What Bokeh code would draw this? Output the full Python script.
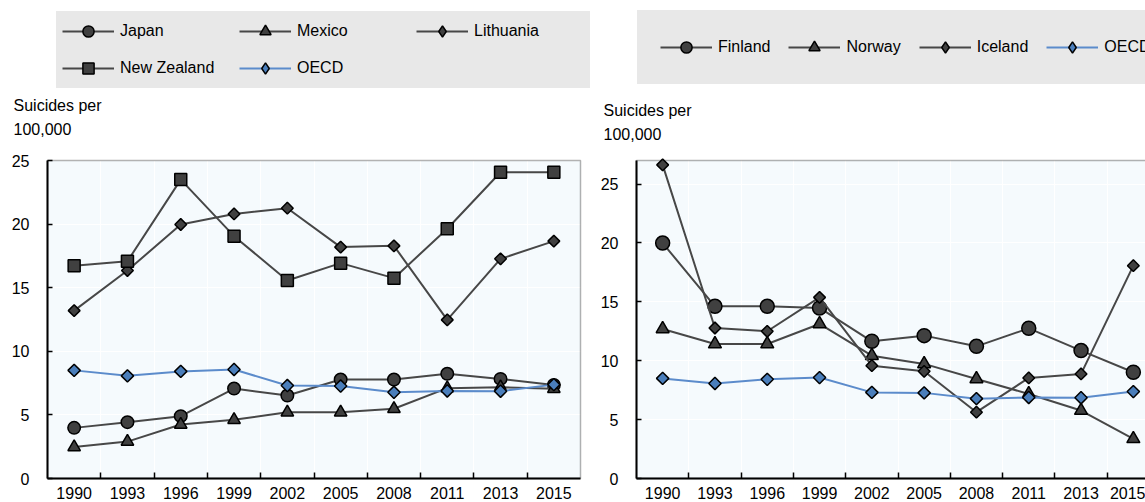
import numpy as np
from bokeh.plotting import figure
from bokeh.models import (Range1d, LinearAxis, FixedTicker, Legend, LegendItem, Label,
                          BoxAnnotation)
from bokeh.layouts import row
from bokeh.embed import file_html
from bokeh.resources import INLINE

years = ["1990", "1993", "1996", "1999", "2002", "2005", "2008", "2011", "2013", "2015"]
y_ticks = [0, 5, 10, 15, 20, 25]

japan = [3.98, 4.43, 4.90, 7.07, 6.52, 7.78, 7.78, 8.23, 7.83, 7.35]
mexico = [2.47, 2.90, 4.24, 4.61, 5.20, 5.20, 5.48, 7.10, 7.18, 7.05]
lithuania = [13.20, 16.35, 19.97, 20.80, 21.25, 18.19, 18.29, 12.47, 17.27, 18.66]
new_zealand = [16.72, 17.08, 23.50, 19.05, 15.57, 16.93, 15.75, 19.63, 24.08, 24.08]
oecd = [8.50, 8.07, 8.42, 8.57, 7.31, 7.27, 6.78, 6.88, 6.86, 7.38]

finland = [19.99, 14.62, 14.62, 14.48, 11.65, 12.13, 11.22, 12.75, 10.86, 9.02]
norway = [12.70, 11.42, 11.42, 13.12, 10.43, 9.73, 8.45, 7.18, 5.77, 3.37]
iceland = [26.63, 12.78, 12.50, 15.38, 9.58, 9.10, 5.63, 8.54, 8.88, 18.07]

# one slot per year on the x axis
xpos = list(range(len(years)))
boundaries = [i + 0.5 for i in xpos[:-1]]
X_LO, X_HI = -0.5, len(years) - 0.5

FONT = "Liberation Sans"
FS = "16px"
BG = "#F5FAFD"
LEG_BG = "#E8E8E8"
DARK_LINE = "#474747"
DARK_FILL = "#404040"
BLUE_LINE = "#5B8BCB"
BLUE_FILL = "#4A7EBB"
FIG_H = 502
AXIS_Y = 478       # canvas px (from top) of the x axis line
PLOT_TOP = 160     # canvas px (from top) of the top of the plotting box


def make_panel(fig_w, plot_l, plot_r, y_top):
    catw = (plot_r - plot_l) / len(years)
    x0 = X_LO - plot_l / catw
    x1 = X_LO + (fig_w - plot_l) / catw
    ppu = (AXIS_Y - PLOT_TOP) / y_top
    y0 = -(FIG_H - AXIS_Y) / ppu
    y1 = y_top + PLOT_TOP / ppu
    p = figure(x_range=Range1d(x0, x1), y_range=Range1d(y0, y1),
               width=fig_w, height=FIG_H, output_backend="svg", toolbar_location=None,
               y_axis_location=None,
               min_border_left=0, min_border_right=0, min_border_top=0,
               min_border_bottom=0,
               background_fill_color="white", border_fill_color="white",
               outline_line_color=None)
    # plotting box background + border
    p.add_layout(BoxAnnotation(left=X_LO, right=X_HI, bottom=0, top=y_top,
                               fill_color=BG, fill_alpha=1.0, line_color=None,
                               level="image"))
    p.add_layout(BoxAnnotation(left=X_LO, right=X_HI, bottom=0, top=y_top,
                               fill_alpha=0, line_color="black", line_width=1.5,
                               level="underlay"))
    # x axis: boundary ticks pointing into the plot
    tick_axis = p.xaxis[0]
    tick_axis.fixed_location = 0
    tick_axis.ticker = FixedTicker(ticks=boundaries)
    tick_axis.bounds = (X_LO, X_HI)
    tick_axis.major_tick_in = 6
    tick_axis.major_tick_out = 0
    tick_axis.major_tick_line_color = "black"
    tick_axis.major_tick_line_width = 1.5
    tick_axis.minor_tick_line_color = None
    tick_axis.major_label_overrides = {b: "" for b in boundaries}
    tick_axis.major_label_text_color = None
    tick_axis.major_label_standoff = 0
    tick_axis.axis_line_color = "black"
    tick_axis.axis_line_width = 2
    # year labels at slot centres
    label_axis = LinearAxis(fixed_location=0, ticker=FixedTicker(ticks=xpos),
                            major_label_overrides={i: y for i, y in zip(xpos, years)},
                            major_tick_in=0, major_tick_out=0, major_tick_line_color=None,
                            minor_tick_line_color=None, axis_line_color=None,
                            major_label_standoff=8, major_label_text_font=FONT,
                            major_label_text_font_size=FS, major_label_text_color="black")
    p.add_layout(label_axis, "below")

    p.xgrid.ticker = FixedTicker(ticks=boundaries)
    p.xgrid.grid_line_color = "white"
    p.xgrid.grid_line_width = 1

    yax = LinearAxis(fixed_location=X_LO, bounds=(0, y_top),
                     ticker=FixedTicker(ticks=y_ticks),
                     major_tick_in=5, major_tick_out=0, major_tick_line_color="black",
                     major_tick_line_width=1.5, minor_tick_line_color=None,
                     axis_line_color="black", axis_line_width=2,
                     major_label_standoff=18, major_label_text_font=FONT,
                     major_label_text_font_size=FS, major_label_text_color="black")
    p.add_layout(yax, "left")
    p.ygrid.ticker = FixedTicker(ticks=y_ticks)
    p.ygrid.grid_line_color = "white"
    p.ygrid.grid_line_width = 1
    return p


def add_series(p, values, marker, size, line_color, fill_color, angle=0.0):
    r1 = p.line(xpos, values, line_color=line_color, line_width=2)
    if angle:
        # diamond swatch for the legend (legend ignores marker angle); it sits
        # fully hidden under the rotated-square marker drawn on top of it
        r3 = p.scatter(xpos, values, marker="diamond", size=10,
                       fill_color=fill_color, line_color="black", line_width=1.5)
        p.scatter(xpos, values, marker=marker, size=size, angle=angle,
                  fill_color=fill_color, line_color="black", line_width=1.5)
        return [r1, r3]
    r2 = p.scatter(xpos, values, marker=marker, size=size,
                   fill_color=fill_color, line_color="black", line_width=1.5)
    return [r1, r2]


def add_ylabel(p, x, y_top_line, y_bottom_line):
    for txt, yy in (("Suicides per", y_top_line), ("100,000", y_bottom_line)):
        p.add_layout(Label(x=x, y=yy, x_units="screen", y_units="screen", text=txt,
                           text_font=FONT, text_font_size=FS, text_color="black",
                           text_align="left", text_baseline="middle"))


def legend_style():
    return dict(label_text_font=FONT, label_text_font_size=FS, label_text_color="black",
                background_fill_color=LEG_BG, background_fill_alpha=1.0,
                border_line_color=LEG_BG, border_line_width=1,
                glyph_width=52, glyph_height=28, label_height=28, label_standoff=6)


# ---------- left panel ----------
p1 = make_panel(592, 47, 580, 25)
l_jp = add_series(p1, japan, "circle", 12.5, DARK_LINE, DARK_FILL)
l_mx = add_series(p1, mexico, "triangle", 12.5, DARK_LINE, DARK_FILL)
l_lt = add_series(p1, lithuania, "square", 8.3, DARK_LINE, DARK_FILL, np.pi / 4)
l_nz = add_series(p1, new_zealand, "square", 12, DARK_LINE, DARK_FILL)
l_oe = add_series(p1, oecd, "square", 8.7, BLUE_LINE, BLUE_FILL, np.pi / 4)

leg1 = Legend(items=[LegendItem(label="Japan", renderers=l_jp),
                     LegendItem(label="Mexico", renderers=l_mx),
                     LegendItem(label="Lithuania", renderers=l_lt),
                     LegendItem(label="New Zealand", renderers=l_nz),
                     LegendItem(label="OECD", renderers=l_oe)],
              location=(56, FIG_H - 88), orientation="horizontal", ncols=3,
              padding=5, spacing=9, label_width=110, **legend_style())
p1.add_layout(leg1)
add_ylabel(p1, 13, FIG_H - 105, FIG_H - 128)

# ---------- right panel ----------
p2 = make_panel(553, 44, 567, 27)
l_fi = add_series(p2, finland, "circle", 14, DARK_LINE, DARK_FILL)
l_no = add_series(p2, norway, "triangle", 13, DARK_LINE, DARK_FILL)
l_ic = add_series(p2, iceland, "square", 8.3, DARK_LINE, DARK_FILL, np.pi / 4)
l_oe2 = add_series(p2, oecd, "square", 8.7, BLUE_LINE, BLUE_FILL, np.pi / 4)

leg2 = Legend(items=[LegendItem(label="Finland", renderers=l_fi),
                     LegendItem(label="Norway", renderers=l_no),
                     LegendItem(label="Iceland", renderers=l_ic),
                     LegendItem(label="OECD", renderers=l_oe2)],
              location=(45, FIG_H - 84), orientation="horizontal",
              padding=22, spacing=18, **legend_style())
p2.add_layout(leg2)
add_ylabel(p2, 11, FIG_H - 110, FIG_H - 133)

layout = row(p1, p2)
open("out.html", "w").write(file_html(layout, INLINE))
